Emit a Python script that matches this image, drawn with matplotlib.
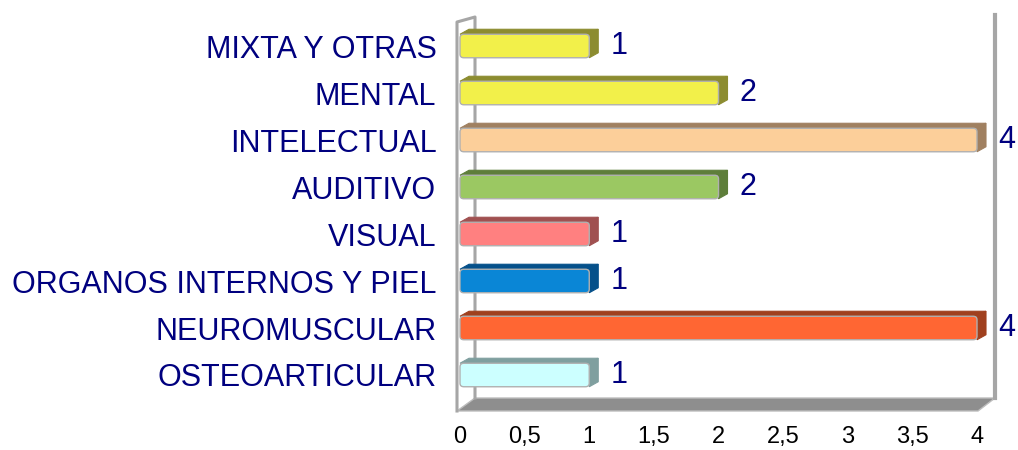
import matplotlib.pyplot as plt
from matplotlib.patches import Polygon, FancyBboxPatch

plt.rcParams['font.family'] = ['Liberation Sans', 'DejaVu Sans']

categorias = ['OSTEOARTICULAR', 'NEUROMUSCULAR', 'ORGANOS INTERNOS Y PIEL', 'VISUAL',
              'AUDITIVO', 'INTELECTUAL', 'MENTAL', 'MIXTA Y OTRAS']
valores = [1, 4, 1, 1, 2, 4, 2, 1]
colores = ['#CCFFFF', '#FF6633', '#0A86D6', '#FF8080', '#9BC862', '#FCCF9A', '#F2F04A', '#F2F04A']
lados = ['#7F9F9F', '#A0401E', '#05508A', '#A05050', '#5E7E3A', '#A08060', '#8C8C30', '#8C8C30']
xticks = [0, 0.5, 1, 1.5, 2, 2.5, 3, 3.5, 4]
xtick_labels = ['0', '0,5', '1', '1,5', '2', '2,5', '3', '3,5', '4']

W, H = 1018, 450
fig = plt.figure(figsize=(W / 100, H / 100), dpi=100)
# axes spans x: 0..4 -> px 460..977, y rows 15..411 from top
ax = fig.add_axes([460 / W, 39 / H, 517 / W, 396 / H])
ax.set_xlim(0, 4)
ax.set_ylim(-0.766, 7.66)
for s in ax.spines.values():
    s.set_visible(False)

px = 4 / 517.0   # one pixel in x data units
py = 1 / 47.0    # one pixel in y data units
dx, dy = 9 * px, 5 * py
h = 0.5
y0, y1 = ax.get_ylim()
x0, x1 = ax.get_xlim()
wall = '#A6A6A6'

# floor
ax.add_patch(Polygon([(x0 - 3 * px, y0), (x1 + 1 * px, y0), (x1 + 18 * px, y0 + 13 * py),
                      (x0 + 15 * px, y0 + 13 * py)], closed=True, facecolor='#8E8E8E',
                     edgecolor='#BDBDBD', lw=1, clip_on=False, zorder=1))
# left wall
ax.plot([x0 - 3 * px, x0 - 3 * px, x0 + 15 * px, x0 + 15 * px],
        [y0, y1 - 7 * py, y1 - 2 * py, y0 + 13 * py], color=wall, lw=2.2,
        clip_on=False, zorder=1)
# right wall
ax.plot([x1 + 18 * px, x1 + 18 * px], [y0 + 13 * py, y1], color=wall, lw=3,
        clip_on=False, zorder=1)

for i, (v, c, sc) in enumerate(zip(valores, colores, lados)):
    yb, yt = i - h / 2, i + h / 2
    ax.add_patch(Polygon([(0, yt), (v, yt), (v + dx, yt + dy), (dx, yt + dy)], closed=True,
                         facecolor=sc, edgecolor=sc, lw=0.8, zorder=3, clip_on=False))
    ax.add_patch(Polygon([(v, yb), (v + dx, yb + dy), (v + dx, yt + dy), (v, yt)], closed=True,
                         facecolor=sc, edgecolor=sc, lw=0.8, zorder=3, clip_on=False))
    ax.add_patch(FancyBboxPatch((0, yb), v, h, boxstyle='round,pad=0,rounding_size=0.03',
                                mutation_aspect=2.5, facecolor=c, edgecolor='#B0B0B0',
                                lw=1.0, zorder=4, clip_on=False))
    ax.text(v + dx + 12 * px, i, str(v), ha='left', va='center', fontsize=22,
            color='#00007F', zorder=5, clip_on=False)

ax.set_yticks(range(len(categorias)))
ax.set_yticklabels(categorias, fontsize=22, color='#00007F')
ax.set_xticks(xticks)
ax.set_xticklabels(xtick_labels, fontsize=17, color='black')
ax.tick_params(axis='y', length=0, pad=17)
ax.tick_params(axis='x', length=0, pad=11)

fig.savefig('out.png', dpi=100)
